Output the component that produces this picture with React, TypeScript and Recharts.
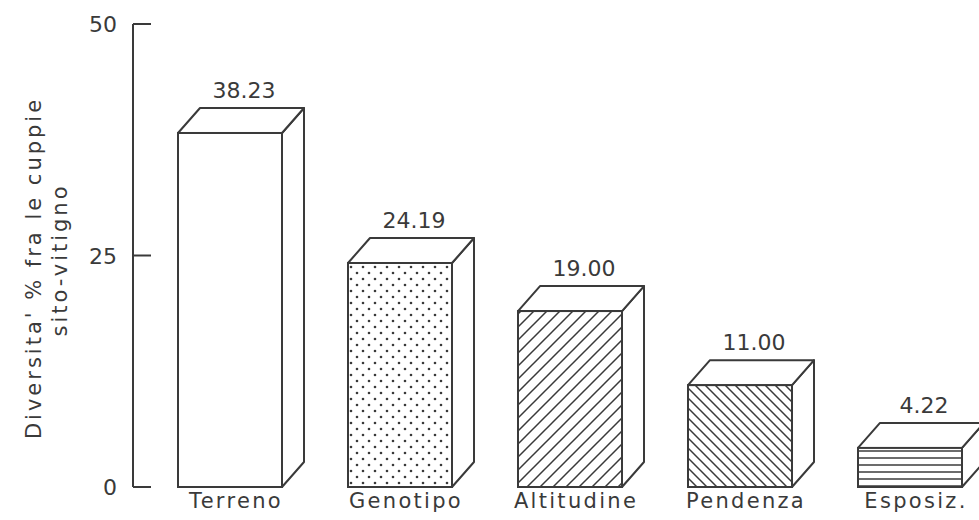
import React from 'react';
import { BarChart, Bar, XAxis, YAxis, LabelList } from 'recharts';

const categories = ['Terreno', 'Genotipo', 'Altitudine', 'Pendenza', 'Esposiz.'];
const values = [38.23, 24.19, 19.0, 11.0, 4.22];
const yTicks = [0, 25, 50];
const yTitle = ["Diversita' % fra le cuppie", 'sito-vitigno'];

const data = categories.map((name, i) => ({ name, value: values[i] }));

const INK = '#3a3a3a';
const FONT = '"DejaVu Sans", sans-serif';
// depth of the box (side and top faces)
const DX = 22;
const DY = -25;

const fills = ['#fff', 'url(#p-dots)', 'url(#p-up)', 'url(#p-down)', 'url(#p-horiz)'];

function Patterns() {
  return (
    <defs>
      <pattern id="p-dots" patternUnits="userSpaceOnUse" width={12} height={12}>
        <rect width={12} height={12} fill="#fff" />
        <circle cx={3} cy={3} r={1.3} fill={INK} />
        <circle cx={9} cy={9} r={1.3} fill={INK} />
      </pattern>
      <pattern id="p-up" patternUnits="userSpaceOnUse" width={13} height={13}>
        <rect width={13} height={13} fill="#fff" />
        <path d="M0,13 L13,0 M-3,3 L3,-3 M10,16 L16,10" stroke={INK} strokeWidth={1.5} />
      </pattern>
      <pattern id="p-down" patternUnits="userSpaceOnUse" width={10} height={10}>
        <rect width={10} height={10} fill="#fff" />
        <path d="M0,0 L10,10 M-3,7 L3,13 M7,-3 L13,3" stroke={INK} strokeWidth={1.5} />
      </pattern>
      <pattern id="p-horiz" patternUnits="userSpaceOnUse" width={10} height={7}>
        <rect width={10} height={7} fill="#fff" />
        <line x1={0} y1={3} x2={10} y2={3} stroke={INK} strokeWidth={1.5} />
      </pattern>
    </defs>
  );
}

function Box3D(props: any) {
  const { x, y, width: w, height: h, index } = props;
  const top = `${x},${y} ${x + DX},${y + DY} ${x + w + DX},${y + DY} ${x + w},${y}`;
  const side = `${x + w},${y} ${x + w + DX},${y + DY} ${x + w + DX},${y + h + DY} ${x + w},${y + h}`;
  return (
    <g>
      {index === 0 && <Patterns />}
      <polygon points={side} fill="#fff" stroke={INK} strokeWidth={2} strokeLinejoin="round" />
      <polygon points={top} fill="#fff" stroke={INK} strokeWidth={2} strokeLinejoin="round" />
      <rect x={x} y={y} width={w} height={h} fill={fills[index]} stroke={INK} strokeWidth={2} />
    </g>
  );
}

function ValueLabel(props: any) {
  const { x, y, width, value } = props;
  return (
    <text x={x + width / 2 + DX / 2 + 3} y={y + DY - 10} textAnchor="middle" fontSize={22} fontFamily={FONT} fill={INK}>
      {Number(value).toFixed(2)}
    </text>
  );
}

function YTick(props: any) {
  const { x, y, payload } = props;
  return (
    <g>
      <line x1={x} y1={y} x2={x + 18} y2={y} stroke={INK} strokeWidth={2} />
      <text x={x - 16} y={y} dy={8} textAnchor="end" fontSize={22} fontFamily={FONT} fill={INK}>
        {payload.value}
      </text>
    </g>
  );
}

function XTick(props: any) {
  const { x, y, payload } = props;
  return (
    <text x={x + 6} y={y + 21} textAnchor="middle" fontSize={21} letterSpacing={2.3} fontFamily={FONT} fill={INK}>
      {payload.value}
    </text>
  );
}

function YTitle() {
  return (
    <g fontFamily={FONT} fontSize={21} fill={INK} letterSpacing={3}>
      <text x={34} y={268} transform="rotate(-90 34 268)" textAnchor="middle" dominantBaseline="central">
        {yTitle[0]}
      </text>
      <text x={60} y={260} transform="rotate(-90 60 260)" textAnchor="middle" dominantBaseline="central">
        {yTitle[1]}
      </text>
    </g>
  );
}

export default function App() {
  return (
    <div style={{ position: 'absolute', left: 0, top: 0, background: '#fff' }}>
      <BarChart width={979} height={520} data={data} margin={{ top: 24, right: 0, bottom: 0, left: 0 }}>
        <XAxis
          dataKey="name"
          height={33}
          axisLine={false}
          tickLine={false}
          tickSize={0}
          tickMargin={0}
          interval={0}
          padding={{ left: 12, right: -16 }}
          tick={<XTick />}
        />
        <YAxis
          width={133}
          domain={[0, 50]}
          ticks={yTicks}
          axisLine={{ stroke: INK, strokeWidth: 2 }}
          tickLine={false}
          tickSize={0}
          tickMargin={0}
          tick={<YTick />}
          label={{ content: () => <YTitle /> }}
        />
        <Bar dataKey="value" barSize={104} isAnimationActive={false} shape={(p: any) => <Box3D {...p} />}>
          <LabelList dataKey="value" content={<ValueLabel />} />
        </Bar>
      </BarChart>
    </div>
  );
}
